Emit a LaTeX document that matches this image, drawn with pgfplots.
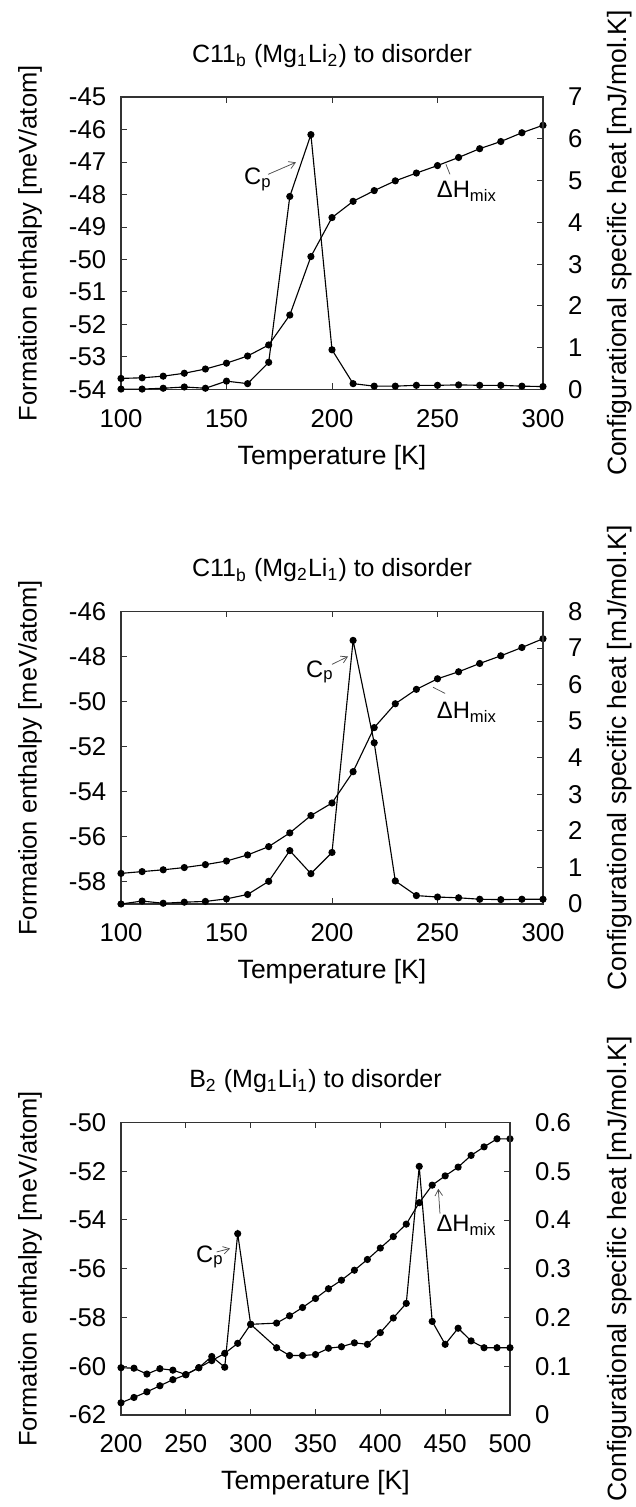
\documentclass[border=0pt]{standalone}
\usepackage{fontspec}
\setmainfont{Liberation Sans}
\usepackage{pgfplots}
\pgfplotsset{compat=1.18}
\usetikzlibrary{arrows.meta}

\tikzset{ann/.style={font=\fontsize{9.5}{11}\selectfont}}
\pgfplotsset{
  base/.style={
    scale only axis, height=117pt,
    tick align=inside, major tick length=2.4pt,
    tick label style={font=\fontsize{10.3}{12}\selectfont},
    label style={font=\fontsize{10.6}{12}\selectfont},
    title style={font=\fontsize{10}{12}\selectfont, at={(axis description cs:0.5,1)}, anchor=center, yshift=10.4pt},
    /pgf/number format/assume math mode=true,
    axis line style={line width=0.5pt, black!80},
    every tick/.style={black!80, line width=0.4pt},
  },
  leftax/.style={base, ytick pos=left, xtick pos=both,
    xticklabel shift=4.4pt, yticklabel shift=2.4pt,
    xlabel={Temperature [K]},
    xlabel style={at={(axis description cs:0.5,0)}, anchor=center, yshift=-27.2pt},
    ylabel={Formation enthalpy [meV/atom]},
    ylabel style={at={(axis description cs:0,0.5)}, anchor=center, yshift=36.4pt, font=\fontsize{10.2}{12}\selectfont},
  },
  rightax/.style={base, axis y line*=right, axis x line=none,
    yticklabel style={anchor=west, xshift=6.5pt},
    ylabel={Configurational specific heat [mJ/mol.K]},
    ylabel style={at={(axis description cs:1,0.5)}, anchor=center},
  },
  ser/.style={black, line width=0.45pt, mark=*, mark size=1.2pt, mark options={solid}},
}

% Panel 1: C11b (Mg1Li2)
\pgfplotstableread{
T H
100 -53.66
110 -53.64
120 -53.59
130 -53.50
140 -53.37
150 -53.19
160 -52.97
170 -52.63
180 -51.71
190 -49.91
200 -48.71
210 -48.21
220 -47.88
230 -47.58
240 -47.34
250 -47.11
260 -46.86
270 -46.59
280 -46.37
290 -46.10
300 -45.87
}\hA
\pgfplotstableread{
T C
100 0.01
110 0.01
120 0.03
130 0.06
140 0.03
150 0.20
160 0.14
170 0.65
180 4.62
190 6.10
200 0.95
210 0.14
220 0.08
230 0.08
240 0.10
250 0.10
260 0.11
270 0.10
280 0.10
290 0.08
300 0.07
}\cA
% Panel 2: C11b (Mg2Li1)
\pgfplotstableread{
T H
100 -57.64
110 -57.56
120 -57.48
130 -57.38
140 -57.25
150 -57.09
160 -56.82
170 -56.45
180 -55.84
190 -55.07
200 -54.51
210 -53.12
220 -51.16
230 -50.10
240 -49.46
250 -48.99
260 -48.68
270 -48.31
280 -47.97
290 -47.60
300 -47.21
}\hB
\pgfplotstableread{
T C
100 0.00
110 0.08
120 0.02
130 0.05
140 0.07
150 0.14
160 0.26
170 0.62
180 1.46
190 0.83
200 1.41
210 7.21
220 4.41
230 0.63
240 0.23
250 0.19
260 0.17
270 0.13
280 0.12
290 0.13
300 0.13
}\cB
% Panel 3: B2 (Mg1Li1)
\pgfplotstableread{
T H
200 -61.50
210 -61.28
220 -61.05
230 -60.80
240 -60.55
250 -60.35
260 -60.06
270 -59.77
280 -59.47
290 -59.06
300 -58.28
320 -58.23
330 -57.93
340 -57.59
350 -57.22
360 -56.82
370 -56.47
380 -56.06
390 -55.62
400 -55.15
410 -54.68
420 -54.17
430 -53.29
440 -52.57
450 -52.19
460 -51.83
470 -51.35
480 -51.00
490 -50.67
500 -50.67
}\hC
\pgfplotstableread{
T C
200 0.097
210 0.096
220 0.084
230 0.095
240 0.092
250 0.083
260 0.097
270 0.120
280 0.098
290 0.372
300 0.186
320 0.138
330 0.122
340 0.122
350 0.124
360 0.137
370 0.140
380 0.148
390 0.145
400 0.169
410 0.199
420 0.229
430 0.510
440 0.192
450 0.145
460 0.178
470 0.152
480 0.138
490 0.138
500 0.138
}\cC

\begin{document}
\begin{tikzpicture}
\path[use as bounding box] (0,0) rectangle (254.4pt,602.8pt);

% ---------- Panel 1 ----------
\begin{axis}[leftax, at={(48.4pt,447pt)}, anchor=south west, width=168.8pt,
  xmin=100, xmax=300, xtick={100,150,...,300},
  ymin=-54, ymax=-45, ytick={-54,-53,...,-45},
  title={C11\textsubscript{b} (Mg\textsubscript{1}Li\textsubscript{2}) to disorder}]
  \addplot[ser] table[x=T,y=H] {\hA};
  \node[ann] at (axis cs:164.9,-47.54) {C\textsubscript{p}};
  \draw[black!70, line width=0.3pt, -{Straight Barb[length=2.5pt,width=3pt]}] (axis cs:169.7,-47.38) -- (axis cs:182.9,-47.01);
  \node[ann] at (axis cs:264,-47.9) {ΔH\textsubscript{mix}};
  \draw[black!70, line width=0.3pt] (axis cs:255.9,-47.38) -- (axis cs:254,-47.07);
\end{axis}
\begin{axis}[rightax, at={(48.4pt,447pt)}, anchor=south west, width=168.8pt,
  xmin=100, xmax=300,
  ymin=0, ymax=7, ytick={0,1,...,7},
  ylabel style={yshift=-30.8pt}]
  \addplot[ser] table[x=T,y=C] {\cA};
\end{axis}

% ---------- Panel 2 ----------
\begin{axis}[leftax, at={(48.4pt,241.2pt)}, anchor=south west, width=168.8pt,
  xmin=100, xmax=300, xtick={100,150,...,300},
  ymin=-59, ymax=-46, ytick={-58,-56,...,-46},
  title={C11\textsubscript{b} (Mg\textsubscript{2}Li\textsubscript{1}) to disorder}]
  \addplot[ser] table[x=T,y=H] {\hB};
  \node[ann] at (axis cs:194.3,-48.69) {C\textsubscript{p}};
  \draw[black!70, line width=0.3pt, -{Straight Barb[length=2.5pt,width=3pt]}] (axis cs:200,-48.35) -- (axis cs:207.6,-48.0);
  \node[ann] at (axis cs:264,-50.47) {ΔH\textsubscript{mix}};
  \draw[black!70, line width=0.3pt] (axis cs:253.6,-49.64) -- (axis cs:247.9,-49.37);
\end{axis}
\begin{axis}[rightax, at={(48.4pt,241.2pt)}, anchor=south west, width=168.8pt,
  xmin=100, xmax=300,
  ymin=0, ymax=8, ytick={0,1,...,8},
  ylabel style={yshift=-30.8pt}]
  \addplot[ser] table[x=T,y=C] {\cB};
\end{axis}

% ---------- Panel 3 ----------
\begin{axis}[leftax, at={(48.4pt,36.8pt)}, anchor=south west, width=155.6pt,
  xmin=200, xmax=500, xtick={200,250,...,500},
  ymin=-62, ymax=-50, ytick={-62,-60,...,-50},
  title={B\textsubscript{2} (Mg\textsubscript{1}Li\textsubscript{1}) to disorder}]
  \addplot[ser] table[x=T,y=H] {\hC};
  \node[ann] at (axis cs:268.6,-55.52) {C\textsubscript{p}};
  \draw[black!70, line width=0.3pt, -{Straight Barb[length=2.5pt,width=3pt]}] (axis cs:273.8,-55.31) -- (axis cs:284.1,-55.17);
  \node[ann] at (axis cs:466.6,-54.22) {ΔH\textsubscript{mix}};
  \draw[black!70, line width=0.3pt, -{Straight Barb[length=2.5pt,width=3pt]}] (axis cs:446,-53.74) -- (axis cs:444.7,-52.72);
\end{axis}
\begin{axis}[rightax, at={(48.4pt,36.8pt)}, anchor=south west, width=155.6pt,
  xmin=200, xmax=500,
  ymin=0, ymax=0.6, ytick={0,0.1,...,0.6},
  yticklabels={0,0.1,0.2,0.3,0.4,0.5,0.6},
  ylabel style={yshift=-44pt}]
  \addplot[ser] table[x=T,y=C] {\cC};
\end{axis}
\end{tikzpicture}
\end{document}
